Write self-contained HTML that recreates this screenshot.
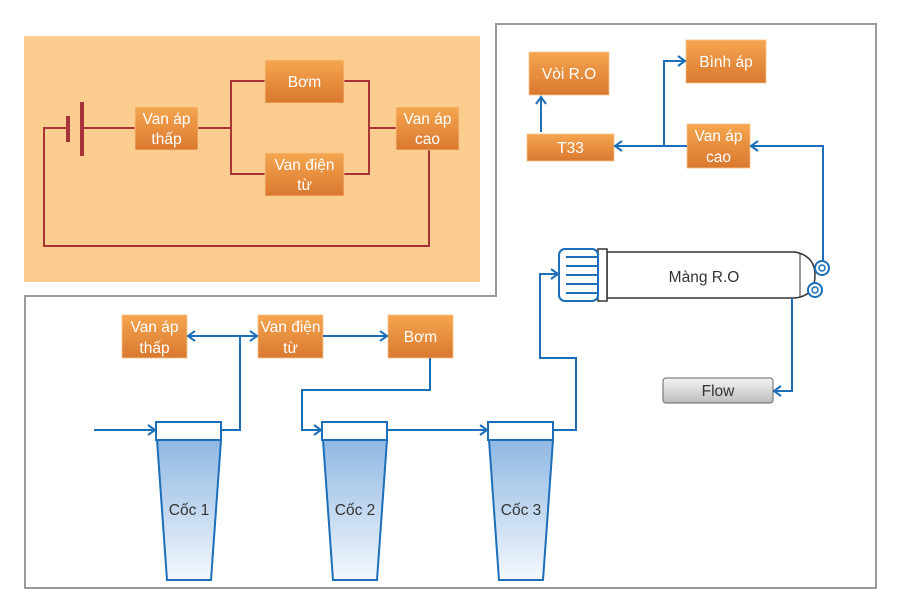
<!DOCTYPE html>
<html><head><meta charset="utf-8"><style>
html,body{margin:0;padding:0;background:#fff;}
svg{display:block;}
text{font-family:"Liberation Sans",sans-serif;}
.b{fill:url(#og);stroke:#F8C48A;stroke-width:0.8;}
.bt{fill:#fff;font-size:15.5px;text-anchor:middle;}
.w{stroke:#A8343A;stroke-width:2;fill:none;}
.l{stroke:#1C6FB8;stroke-width:2;fill:none;}
.ct{fill:#333;font-size:15.5px;text-anchor:middle;}
</style></head><body>
<svg width="900" height="610" viewBox="0 0 900 610" xmlns="http://www.w3.org/2000/svg">
<defs>
<linearGradient id="og" x1="0" y1="0" x2="0" y2="1"><stop offset="0" stop-color="#F5A650"/><stop offset="1" stop-color="#D9782F"/></linearGradient>
<linearGradient id="cg" x1="0" y1="0" x2="0" y2="1"><stop offset="0" stop-color="#8FB8E3"/><stop offset="1" stop-color="#F4F8FD"/></linearGradient>
<linearGradient id="fg" x1="0" y1="0" x2="0" y2="1"><stop offset="0" stop-color="#F4F4F4"/><stop offset="1" stop-color="#BDBDBD"/></linearGradient>
<marker id="a" markerWidth="12" markerHeight="12" refX="9" refY="6" orient="auto" markerUnits="userSpaceOnUse"><path d="M2,1 L9,6 L2,11" fill="none" stroke="#1C6FB8" stroke-width="2"/></marker>
<marker id="as" markerWidth="12" markerHeight="12" refX="3" refY="6" orient="auto" markerUnits="userSpaceOnUse"><path d="M10,1 L3,6 L10,11" fill="none" stroke="#1C6FB8" stroke-width="2"/></marker>
</defs>
<polygon points="25,296 496,296 496,24 876,24 876,588 25,588" fill="#fff" stroke="#9A9A9A" stroke-width="2"/>
<rect x="24" y="36" width="456" height="246" fill="#FBCE8F"/>
<polyline class="w" points="68,128 44,128 44,246 429,246 429,150"/>
<line class="w" x1="82" y1="128" x2="135" y2="128"/>
<polyline class="w" points="198,128 231,128"/>
<polyline class="w" points="265,81 231,81 231,174 265,174"/>
<polyline class="w" points="344,81 369,81 369,174 344,174"/>
<line class="w" x1="369" y1="128" x2="396" y2="128"/>
<rect x="66" y="116" width="4" height="26" fill="#A8343A"/>
<rect x="80" y="102" width="4" height="54" fill="#A8343A"/>
<rect class="b" x="135" y="107" width="63" height="43"/><text class="bt" x="166.5" y="124">Van áp</text><text class="bt" x="166.5" y="144">thấp</text>
<rect class="b" x="265" y="60" width="79" height="43"/><text class="bt" x="304.5" y="87">Bơm</text>
<rect class="b" x="265" y="153" width="79" height="43"/><text class="bt" x="304.5" y="170">Van điện</text><text class="bt" x="304.5" y="190">từ</text>
<rect class="b" x="396" y="107" width="63" height="43"/><text class="bt" x="427.5" y="124">Van áp</text><text class="bt" x="427.5" y="144">cao</text>
<rect class="b" x="529" y="52" width="80" height="43"/><text class="bt" x="569" y="79">Vòi R.O</text>
<rect class="b" x="686" y="40" width="80" height="43"/><text class="bt" x="726" y="67">Bình áp</text>
<rect class="b" x="527" y="134" width="87" height="27"/><text class="bt" x="570.5" y="153">T33</text>
<rect class="b" x="687" y="124" width="63" height="44"/><text class="bt" x="718.5" y="141">Van áp</text><text class="bt" x="718.5" y="162">cao</text>
<line class="l" x1="541" y1="132" x2="541" y2="97" marker-end="url(#a)"/>
<line class="l" x1="687" y1="146" x2="615" y2="146" marker-end="url(#a)"/>
<polyline class="l" points="664,146 664,61 685,61" marker-end="url(#a)"/>
<polyline class="l" points="823,261 823,146 751,146" marker-end="url(#a)"/>
<path d="M607,252 L795,252 Q815,256 815,275 Q815,296 795,298 L607,298 Z" fill="#fff" stroke="#333" stroke-width="1.5"/>
<line x1="800" y1="253" x2="800" y2="297" stroke="#333" stroke-width="1"/>
<rect x="598" y="249" width="9" height="52" fill="#fff" stroke="#333" stroke-width="1.5"/>
<rect x="559" y="249" width="39" height="52" rx="6" fill="#fff" stroke="#1C6FB8" stroke-width="2"/>
<g stroke="#1C6FB8" stroke-width="2"><line x1="566" y1="257" x2="598" y2="257"/><line x1="566" y1="266" x2="598" y2="266"/><line x1="566" y1="275" x2="598" y2="275"/><line x1="566" y1="284" x2="598" y2="284"/><line x1="566" y1="293" x2="598" y2="293"/></g>
<circle cx="822" cy="268" r="7" fill="#fff" stroke="#1C6FB8" stroke-width="2"/><circle cx="822" cy="268" r="3" fill="none" stroke="#1C6FB8" stroke-width="1.5"/>
<circle cx="815" cy="290" r="7" fill="#fff" stroke="#1C6FB8" stroke-width="2"/><circle cx="815" cy="290" r="3" fill="none" stroke="#1C6FB8" stroke-width="1.5"/>
<text class="ct" x="704" y="282">Màng R.O</text>
<polyline class="l" points="792,298 792,391 774,391" marker-end="url(#a)"/>
<rect x="663" y="378" width="110" height="25" rx="3" fill="url(#fg)" stroke="#666" stroke-width="1"/>
<text class="ct" x="718" y="396">Flow</text>
<polyline class="l" points="553,430 576,430 576,358 540,358 540,274 558,274" marker-end="url(#a)"/>
<rect class="b" x="122" y="315" width="65" height="43"/><text class="bt" x="154.5" y="332">Van áp</text><text class="bt" x="154.5" y="353">thấp</text>
<rect class="b" x="258" y="315" width="65" height="43"/><text class="bt" x="290.5" y="332">Van điện</text><text class="bt" x="290.5" y="353">từ</text>
<rect class="b" x="388" y="315" width="65" height="43"/><text class="bt" x="420.5" y="342">Bơm</text>
<line class="l" x1="188" y1="336" x2="257" y2="336" marker-start="url(#as)" marker-end="url(#a)"/>
<polyline class="l" points="221,430 240,430 240,336"/>
<line class="l" x1="323" y1="336" x2="387" y2="336" marker-end="url(#a)"/>
<polyline class="l" points="430,358 430,390 302,390 302,430 321,430" marker-end="url(#a)"/>
<line class="l" x1="387" y1="430" x2="487" y2="430" marker-end="url(#a)"/>
<line class="l" x1="94" y1="430" x2="155" y2="430" marker-end="url(#a)"/>
<g stroke="#1C6FB8" stroke-width="2">
<path d="M157,440 L221,440 L211,580 L167,580 Z" fill="url(#cg)"/><rect x="156" y="422" width="65" height="18" fill="#fff"/>
<path d="M323,440 L387,440 L377,580 L333,580 Z" fill="url(#cg)"/><rect x="322" y="422" width="65" height="18" fill="#fff"/>
<path d="M489,440 L553,440 L543,580 L499,580 Z" fill="url(#cg)"/><rect x="488" y="422" width="65" height="18" fill="#fff"/>
</g>
<text class="ct" x="189" y="515">Cốc 1</text>
<text class="ct" x="355" y="515">Cốc 2</text>
<text class="ct" x="521" y="515">Cốc 3</text>
</svg>
</body></html>
